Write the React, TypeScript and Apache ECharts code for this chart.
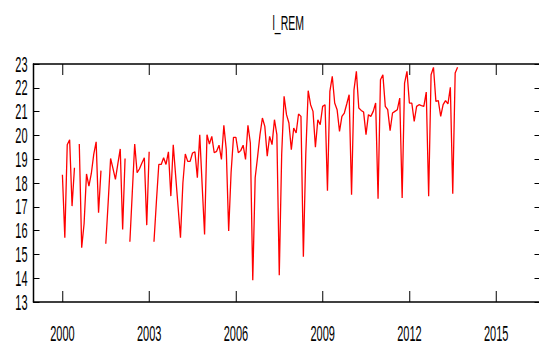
import React, { useEffect, useRef } from "react";
import * as echarts from "echarts";

// Monthly observations of l_REM, starting January 2000 (null = missing month)
const SERIES_NAME = "l_REM";
const START_YEAR = 2000;
const PERIODS_PER_YEAR = 12;

const remValues: (number | null)[] = [
  18.35, 15.7, 19.61, 19.82, 17.03, 18.64, null, 19.64, 15.28, 16.3,
  18.38, 17.87, 18.4, 19.2, 19.73, 16.75, 18.52, null, 15.45, 17.2,
  19.03, 18.6, 18.15, 18.8, 19.43, 16.05, 19.03, null, 15.53, 17.6,
  19.64, 18.43, 18.6, 18.84, 19.06, 16.23, 19.31, null, 15.53, 17.2,
  18.78, 18.78, 19.06, 18.78, 19.31, 17.45, 19.61, 18.3, 17.0, 15.7,
  18.0, 19.22, 18.91, 18.91, 19.26, 19.31, 18.22, 20.03, 17.9, 15.84,
  20.03, 19.64, 19.96, 19.27, 19.33, 19.59, 18.99, 20.42, 19.4, 15.98,
  18.43, 19.92, 19.92, 19.27, 19.36, 19.59, 18.99, 20.42, 19.68, 13.91,
  18.22, 19.1, 20.03, 20.73, 20.38, 19.13, 19.96, 19.61, 20.66, 20.03,
  14.12, 19.2, 21.64, 20.87, 20.52, 19.4, 20.31, 20.1, 20.9, 20.8,
  14.9, 19.2, 21.88, 21.29, 21.01, 19.5, 20.66, 20.45, 21.22, 21.29,
  17.68, 21.85, 22.48, 21.36, 21.08, 20.17, 20.8, 20.94, 21.32, 21.71,
  17.51, 21.9, 22.69, 21.15, 21.05, 20.98, 20.03, 20.87, 20.8, 21.01,
  21.36, 17.34, 22.34, 22.55, 21.22, 21.08, 20.2, 20.94, 21.01, 21.08,
  21.57, 17.37, 22.2, 22.69, 21.36, 21.36, 20.59, 21.22, 21.29, 21.25,
  21.22, 21.82, 17.44, 22.55, 22.86, 21.43, 21.46, 20.8, 21.29, 21.46,
  21.32, 22.02, 17.55, 22.62, 22.86,
];

const yearTicks = [2000, 2003, 2006, 2009, 2012, 2015];
const X_MIN = 1999;
const X_MAX = 2016.5;
const Y_MIN = 13;
const Y_MAX = 23;

// The chart is laid out on a wide canvas and then compressed horizontally
const VIEW_W = 1078;
const VIEW_H = 358;
const OUT_W = 539;

const FONT = '"Liberation Sans", Arial, sans-serif';
const INK = "#000";

const seriesData = remValues.map((v, i) => [START_YEAR + i / PERIODS_PER_YEAR, v]);

const yearAxis = (position: "bottom" | "top", labels: boolean) => ({
  type: "value",
  position,
  min: X_MIN,
  max: X_MAX,
  axisLine: { show: true, onZero: false, lineStyle: { color: INK, width: 1.5 } },
  axisTick: {
    show: true,
    inside: true,
    length: 11,
    customValues: yearTicks,
    lineStyle: { color: INK, width: 1 },
  },
  axisLabel: {
    show: labels,
    customValues: yearTicks,
    margin: 20,
    fontSize: 22,
    fontFamily: FONT,
    color: INK,
    formatter: (v: number) => String(v),
  },
  splitLine: { show: false },
});

const valueAxis = (position: "left" | "right", labels: boolean) => ({
  type: "value",
  position,
  min: Y_MIN,
  max: Y_MAX,
  interval: 1,
  axisLine: { show: position === "left", onZero: false, lineStyle: { color: INK, width: 1.5 } },
  axisTick: {
    show: true,
    inside: true,
    length: position === "left" ? 12 : 10,
    lineStyle: { color: INK, width: 1 },
  },
  axisLabel: {
    show: labels,
    margin: 12,
    fontSize: 22,
    fontFamily: FONT,
    color: INK,
  },
  splitLine: { show: false },
});

const option = {
  animation: false,
  backgroundColor: "#fff",
  title: {
    text: SERIES_NAME,
    left: 540,
    top: 7.5,
    textStyle: { fontFamily: FONT, fontSize: 21, fontWeight: "normal", color: INK },
  },
  grid: {
    left: 67,
    right: -1,
    top: 64,
    bottom: 56,
    containLabel: false,
    outerBoundsMode: "none",
  },
  xAxis: [yearAxis("bottom", true), yearAxis("top", false)],
  yAxis: [valueAxis("left", true), valueAxis("right", false)],
  series: [
    {
      name: SERIES_NAME,
      type: "line",
      xAxisIndex: 0,
      yAxisIndex: 0,
      data: seriesData,
      showSymbol: false,
      symbol: "none",
      connectNulls: false,
      lineStyle: { color: "#ff0000", width: 1.3 },
      itemStyle: { color: "#ff0000" },
    },
  ],
};

export default function App() {
  const ref = useRef<HTMLDivElement>(null);

  useEffect(() => {
    const el = ref.current;
    if (!el) return;
    const chart = echarts.init(el, null, { renderer: "svg", width: VIEW_W, height: VIEW_H });
    chart.setOption(option as any);

    // squeeze the wide drawing into the output width
    const squeeze = () => {
      const svg = el.querySelector("svg");
      if (!svg) return;
      svg.setAttribute("viewBox", `0 0 ${VIEW_W} ${VIEW_H}`);
      svg.setAttribute("width", String(OUT_W));
      svg.setAttribute("preserveAspectRatio", "none");
      svg.style.width = OUT_W + "px";
    };
    squeeze();
    chart.on("finished", squeeze);
    const raf = requestAnimationFrame(squeeze);
    const timer = setTimeout(squeeze, 50);

    return () => {
      cancelAnimationFrame(raf);
      clearTimeout(timer);
      chart.dispose();
    };
  }, []);

  return (
    <div
      style={{
        position: "absolute",
        left: 0,
        top: 0,
        width: OUT_W,
        height: VIEW_H,
        overflow: "hidden",
        background: "#fff",
      }}
    >
      <style>{`.squeezed-chart svg * { vector-effect: non-scaling-stroke; }`}</style>
      <div ref={ref} className="squeezed-chart" style={{ width: VIEW_W, height: VIEW_H }} />
    </div>
  );
}
